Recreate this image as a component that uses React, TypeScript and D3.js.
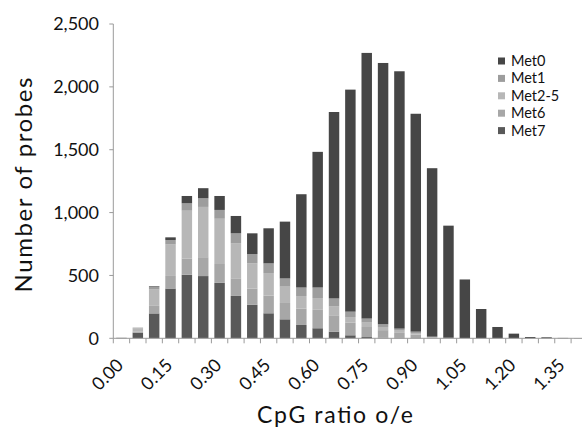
import React, { useEffect, useRef } from "react";
import * as d3 from "d3";

const categories = [
  "0.00", "0.05", "0.10", "0.15", "0.20", "0.25", "0.30", "0.35", "0.40", "0.45",
  "0.50", "0.55", "0.60", "0.65", "0.70", "0.75", "0.80", "0.85", "0.90", "0.95",
  "1.00", "1.05", "1.10", "1.15", "1.20", "1.25", "1.30", "1.35", "1.40",
];
const tickLabels = ["0.00", "0.15", "0.30", "0.45", "0.60", "0.75", "0.90", "1.05", "1.20", "1.35"];
const yTicks = [0, 500, 1000, 1500, 2000, 2500];

// series, bottom of the stack first
const met7 = [3, 45, 198, 396, 505, 495, 441, 337, 266, 199, 151, 106, 80, 53, 24, 10, 5, 3, 2, 1, 0, 0, 0, 0, 0, 0, 0, 0, 0];
const met6 = [1, 10, 60, 100, 130, 150, 150, 140, 130, 140, 130, 130, 150, 130, 100, 80, 60, 40, 28, 6, 2, 1, 0, 0, 0, 0, 0, 0, 0];
const met25 = [1, 25, 130, 250, 380, 400, 360, 280, 200, 180, 130, 100, 90, 70, 45, 35, 25, 18, 12, 3, 1, 0, 0, 0, 0, 0, 0, 0, 0];
const met1 = [0, 5, 21, 36, 59, 69, 70, 78, 74, 77, 65, 68, 84, 64, 43, 32, 22, 16, 11, 3, 1, 1, 0, 0, 0, 0, 0, 0, 0];
const met0 = [0, 0, 5, 21, 58, 80, 111, 138, 165, 279, 452, 742, 1079, 1483, 1766, 2113, 2078, 2047, 1733, 1340, 892, 466, 233, 90, 37, 10, 8, 3, 2];

const seriesNames = ["Met0", "Met1", "Met2-5", "Met6", "Met7"];
const seriesColors: Record<string, string> = {
  Met0: "#464646",
  Met1: "#9d9d9d",
  "Met2-5": "#b7b7b7",
  Met6: "#a7a7a7",
  Met7: "#595959",
};

const W = 582;
const H = 430;
const FONT = "Lato, 'Open Sans', sans-serif";

export default function App() {
  const svgRef = useRef<SVGSVGElement>(null);

  useEffect(() => {
    const rows = categories.map((c, i) => ({
      cat: c,
      Met7: met7[i],
      Met6: met6[i],
      "Met2-5": met25[i],
      Met1: met1[i],
      Met0: met0[i],
    }));

    const x = d3
      .scaleBand()
      .domain(categories)
      .range([113.3, 113.3 + categories.length * 16.35])
      .paddingInner(0.36)
      .paddingOuter(0.18);

    const y = d3.scaleLinear().domain([0, 2500]).range([338.3, 24]);

    const stack = d3.stack<any>().keys(["Met7", "Met6", "Met2-5", "Met1", "Met0"]);
    const layers = stack(rows);

    const svg = d3.select(svgRef.current);
    svg.selectAll("*").remove();

    // bars
    svg
      .append("g")
      .selectAll("g")
      .data(layers)
      .join("g")
      .attr("fill", (d) => seriesColors[d.key])
      .selectAll("rect")
      .data((d) => d)
      .join("rect")
      .attr("x", (d: any) => x(d.data.cat)!)
      .attr("width", x.bandwidth())
      .attr("y", (d) => y(d[1]))
      .attr("height", (d) => y(d[0]) - y(d[1]));

    const step = x.step();
    const x0 = x.range()[0];

    // x axis
    const xg = svg.append("g");
    xg.append("line")
      .attr("x1", x0)
      .attr("x2", x.range()[1])
      .attr("y1", y(0))
      .attr("y2", y(0))
      .attr("stroke", "#9a9a9a");
    xg.selectAll("line.tick")
      .data(d3.range(categories.length + 1))
      .join("line")
      .attr("class", "tick")
      .attr("x1", (i) => x0 + i * step)
      .attr("x2", (i) => x0 + i * step)
      .attr("y1", y(0))
      .attr("y2", y(0) + 5)
      .attr("stroke", "#9a9a9a");
    xg.selectAll("text")
      .data(tickLabels)
      .join("text")
      .attr("transform", (d) => `translate(${x(d)! + x.bandwidth() / 2 + 3},${y(0) + 28}) rotate(-45)`)
      .attr("text-anchor", "end")
      .attr("font-family", FONT)
      .attr("font-size", 18)
      .attr("fill", "#111")
      .text((d) => d);

    // y axis
    const yg = svg.append("g");
    yg.append("line")
      .attr("x1", x0)
      .attr("x2", x0)
      .attr("y1", y(0))
      .attr("y2", y(2500))
      .attr("stroke", "#9a9a9a");
    yg.selectAll("line.tick")
      .data(yTicks)
      .join("line")
      .attr("class", "tick")
      .attr("x1", x0 - 4)
      .attr("x2", x0)
      .attr("y1", (d) => y(d))
      .attr("y2", (d) => y(d))
      .attr("stroke", "#9a9a9a");
    yg.selectAll("text")
      .data(yTicks)
      .join("text")
      .attr("x", 99)
      .attr("y", (d) => y(d))
      .attr("dy", "0.35em")
      .attr("text-anchor", "end")
      .attr("font-family", FONT)
      .attr("font-size", 18)
      .attr("fill", "#111")
      .text((d) => d3.format(",")(d));

    // axis titles
    svg
      .append("text")
      .attr("transform", `translate(32,185) rotate(-90)`)
      .attr("text-anchor", "middle")
      .attr("font-family", FONT)
      .attr("font-size", 24)
      .attr("textLength", 215)
      .attr("lengthAdjust", "spacing")
      .attr("fill", "#111")
      .text("Number of probes");
    svg
      .append("text")
      .attr("x", 335)
      .attr("y", 423)
      .attr("text-anchor", "middle")
      .attr("font-family", FONT)
      .attr("font-size", 23)
      .attr("textLength", 156)
      .attr("lengthAdjust", "spacing")
      .attr("fill", "#111")
      .text("CpG ratio o/e");

    // legend
    const lg = svg
      .append("g")
      .selectAll("g")
      .data(seriesNames)
      .join("g")
      .attr("transform", (d, i) => `translate(498,${61 + i * 17.4})`);
    lg.append("rect")
      .attr("x", 0)
      .attr("y", -3.5)
      .attr("width", 7)
      .attr("height", 7)
      .attr("fill", (d) => seriesColors[d]);
    lg.append("text")
      .attr("x", 13)
      .attr("dy", "0.35em")
      .attr("font-family", FONT)
      .attr("font-size", 14.5)
      .attr("fill", "#111")
      .text((d) => d);
  }, []);

  return (
    <svg
      ref={svgRef}
      width={W}
      height={H}
      style={{ position: "absolute", left: 0, top: 0, background: "#fff" }}
    />
  );
}
